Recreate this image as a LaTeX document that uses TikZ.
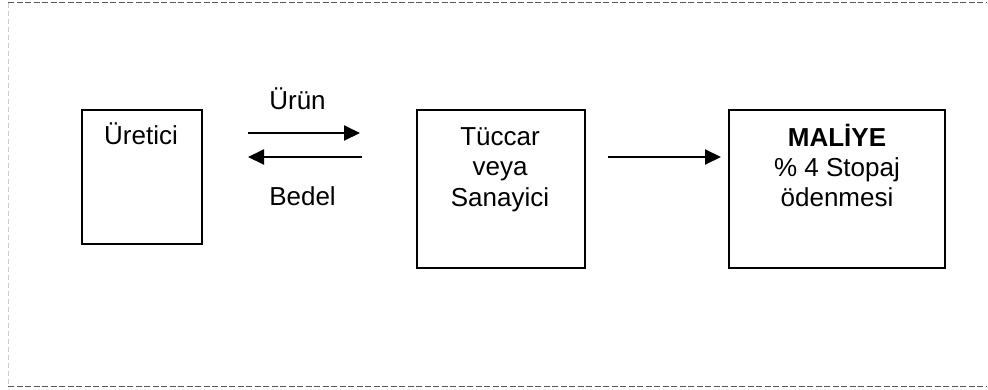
\documentclass[tikz,border=0pt]{standalone}
\usepackage{fontspec}
\setmainfont{Liberation Sans}
\usetikzlibrary{arrows.meta}
\begin{document}
\begin{tikzpicture}[x=1pt,y=-1pt,
  box/.style={draw=black,line width=1.9pt,inner sep=0pt,anchor=north west},
  lbl/.style={inner sep=0pt,anchor=base,font=\fontsize{26}{30}\selectfont},
  conn/.style={line width=2pt,-{Triangle[length=16pt,width=15pt]}},
  frameA/.style={draw=black!65,line width=1pt,dash pattern=on 6pt off 2.5pt},
  frameB/.style={draw=black!20,line width=1pt,dash pattern=on 5pt off 3pt}]
\useasboundingbox (0,0) rectangle (988,389);
% frame
\coordinate (ftl) at (8,2.5);
\coordinate (ftr) at (987,2.5);
\coordinate (fbl) at (8,386.5);
\coordinate (fbr) at (987,386.5);
\draw[frameA] (ftl) -- (ftr);
\draw[frameA] (fbl) -- (fbr);
\draw[frameB] (ftl) -- (fbl);
% boxes
\node[box,minimum width=120pt,minimum height=134pt] (ure) at (81,109) {};
\node[box,minimum width=168pt,minimum height=158pt] (tuc) at (416,109) {};
\node[box,minimum width=216pt,minimum height=158pt] (mal) at (728,109) {};
% texts
\node[lbl] (tUre) at (141,144) {Üretici};
\node[lbl] (tUrun) at (297.5,109.5) {Ürün};
\node[lbl] (tBedel) at (302.5,205) {Bedel};
\node[lbl] (tTuc1) at (500,145) {Tüccar};
\node[lbl] (tTuc2) at (500,175.5) {veya};
\node[lbl] (tTuc3) at (500,206) {Sanayici};
\node[lbl,font=\fontsize{26}{30}\selectfont\bfseries] (tMal1) at (837,146) {MALİYE};
\node[lbl] (tMal2) at (837,176.5) {\% 4 Stopaj};
\node[lbl] (tMal3) at (837,206.5) {ödenmesi};
% connectors
\coordinate (a1s) at (248,133);
\coordinate (a1e) at (360,133);
\coordinate (a2s) at (362,157);
\coordinate (a2e) at (248,157);
\coordinate (a3s) at (608,157);
\coordinate (a3e) at (721,157);
\draw[conn] (a1s) -- (a1e);
\draw[conn] (a2s) -- (a2e);
\draw[conn] (a3s) -- (a3e);
\end{tikzpicture}
\end{document}
